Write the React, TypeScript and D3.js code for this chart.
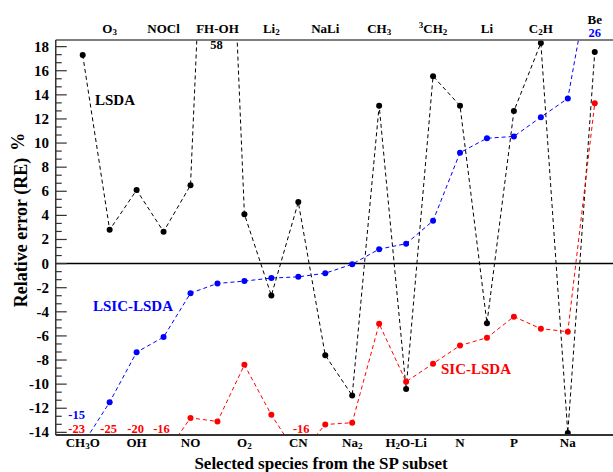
import React from "react";
import * as d3 from "d3";

const categories = ["CH_3O","O_3","OH","NOCl","NO","FH-OH","O_2","Li_2","CN","NaLi","Na_2","CH_3","H_2O-Li","^3CH_2","N","Li","P","C_2H","Na","Be"];
const lsda = [17.3, 2.8, 6.1, 2.65, 6.5, 58, 4.1, -2.65, 5.1, -7.6, -10.95, 13.1, -10.4, 15.55, 13.1, -4.95, 12.65, 18.3, -14.05, 17.55];
const lsic = [-15, -11.5, -7.35, -6.1, -2.45, -1.65, -1.45, -1.2, -1.1, -0.8, -0.05, 1.2, 1.65, 3.55, 9.2, 10.4, 10.55, 12.15, 13.7, 26];
const sic = [-23, -25, -20, -16, -12.8, -13.1, -8.4, -12.55, -16, -13.35, -13.2, -5.0, -9.8, -8.3, -6.8, -6.15, -4.4, -5.4, -5.65, 13.3];
const yMajorTicks = d3.range(-14, 19, 2);
const offLabels = [
  { i: 0, text: "-15", color: "#0000ff", dx: -6, y: 419 },
  { i: 0, text: "-23", color: "#ff0000", dx: -6, y: 433 },
  { i: 1, text: "-25", color: "#ff0000", dx: -1, y: 433 },
  { i: 2, text: "-20", color: "#ff0000", dx: -1, y: 433 },
  { i: 3, text: "-16", color: "#ff0000", dx: -2, y: 433 },
  { i: 8, text: "-16", color: "#ff0000", dx: 3, y: 433 },
  { i: 5, text: "58", color: "#000000", dx: -1, y: 49 },
  { i: 19, text: "26", color: "#0000ff", dx: 0, y: 37 },
];

const FONT = "Liberation Serif, Times New Roman, Times, DejaVu Serif, serif";

function renderLabel(s: string) {
  const parts: React.ReactNode[] = [];
  let k = 0;
  let i = 0;
  let shifted = 0;
  while (i < s.length) {
    const c = s[i];
    if (c === "_" || c === "^") {
      const ch = s[i + 1];
      const dy = c === "_" ? 2 : -5;
      parts.push(<tspan key={k++} dy={dy - shifted} fontSize={9}>{ch}</tspan>);
      shifted = dy;
      i += 2;
    } else {
      let j = i;
      while (j < s.length && s[j] !== "_" && s[j] !== "^") j++;
      parts.push(<tspan key={k++} dy={-shifted}>{s.slice(i, j)}</tspan>);
      shifted = 0;
      i = j;
    }
  }
  return parts;
}

export default function App() {
  const W = 613, H = 472;
  const x = d3.scaleLinear().domain([-1, 20]).range([55.75, 621.7]);
  const y = d3.scaleLinear().domain([-14.22, 18.55]).range([435, 40]);
  const left = x(-1), right = x(20), top = y(18.55), bottom = y(-14.22);
  const line = d3.line<number>().x((_, i) => x(i)).y((d) => y(d));
  const minor = d3.range(-14, 18.5, 2 / 3).filter((v) => Math.abs(v - Math.round(v / 2) * 2) > 0.01);
  const series = [
    { data: lsda, color: "#000000" },
    { data: lsic, color: "#0000ff" },
    { data: sic, color: "#ff0000" },
  ];
  return (
    <svg width={W} height={H} style={{ position: "absolute", left: 0, top: 0, background: "#fff", fontFamily: FONT, fontWeight: "bold" }}>
      <defs>
        <clipPath id="plot">
          <rect x={left} y={top} width={right - left} height={bottom - top} />
        </clipPath>
      </defs>
      <rect x={0} y={0} width={W} height={H} fill="#fff" />
      <g clipPath="url(#plot)">
        <line x1={left} x2={right} y1={y(0)} y2={y(0)} stroke="#000" strokeWidth={1.5} />
        {series.map((s, si) => (
          <g key={si}>
            <path d={line(s.data) || ""} fill="none" stroke={s.color} strokeWidth={1} strokeDasharray="4,3" />
            {s.data.map((v, i) => (
              <circle key={i} cx={x(i)} cy={y(v)} r={3} fill={s.color} />
            ))}
          </g>
        ))}
      </g>
      <line x1={left} x2={W} y1={top} y2={top} stroke="#555" strokeWidth={1.5} />
      <line x1={left} x2={W} y1={bottom} y2={bottom} stroke="#333" strokeWidth={1.8} />
      <line x1={left} x2={left} y1={top} y2={bottom} stroke="#333" strokeWidth={1.5} />
      {yMajorTicks.map((t) => (
        <g key={t}>
          <line x1={left} x2={left + 11} y1={y(t)} y2={y(t)} stroke="#333" strokeWidth={1.2} />
          <text x={49} y={y(t) + 5} textAnchor="end" fontSize={15}>{t}</text>
        </g>
      ))}
      {minor.map((t, i) => (
        <line key={i} x1={left} x2={left + 6} y1={y(t)} y2={y(t)} stroke="#333" strokeWidth={1.2} />
      ))}
      {categories.map((c, i) => (
        <text key={c} x={x(i)} y={i % 2 === 0 ? 447 : (i === 19 ? 24 : 33)} textAnchor="middle" fontSize={13}>
          {renderLabel(c)}
        </text>
      ))}
      {offLabels.map((o, k) => (
        <text key={k} x={x(o.i) + o.dx} y={o.y} textAnchor="middle" fontSize={12.5} fill={o.color}>{o.text}</text>
      ))}
      <text x={95} y={105} fontSize={15} fill="#000">LSDA</text>
      <text x={93} y={311} fontSize={15} fill="#0000ff">LSIC-LSDA</text>
      <text x={441} y={374} fontSize={15} fill="#ff0000">SIC-LSDA</text>
      <text x={321} y={469} textAnchor="middle" fontSize={17}>Selected species from the SP subset</text>
      <text transform="translate(27,220) rotate(-90)" textAnchor="middle" fontSize={18}>
        Relative error (RE)<tspan dx={7} dy={-3}>%</tspan>
      </text>
    </svg>
  );
}
